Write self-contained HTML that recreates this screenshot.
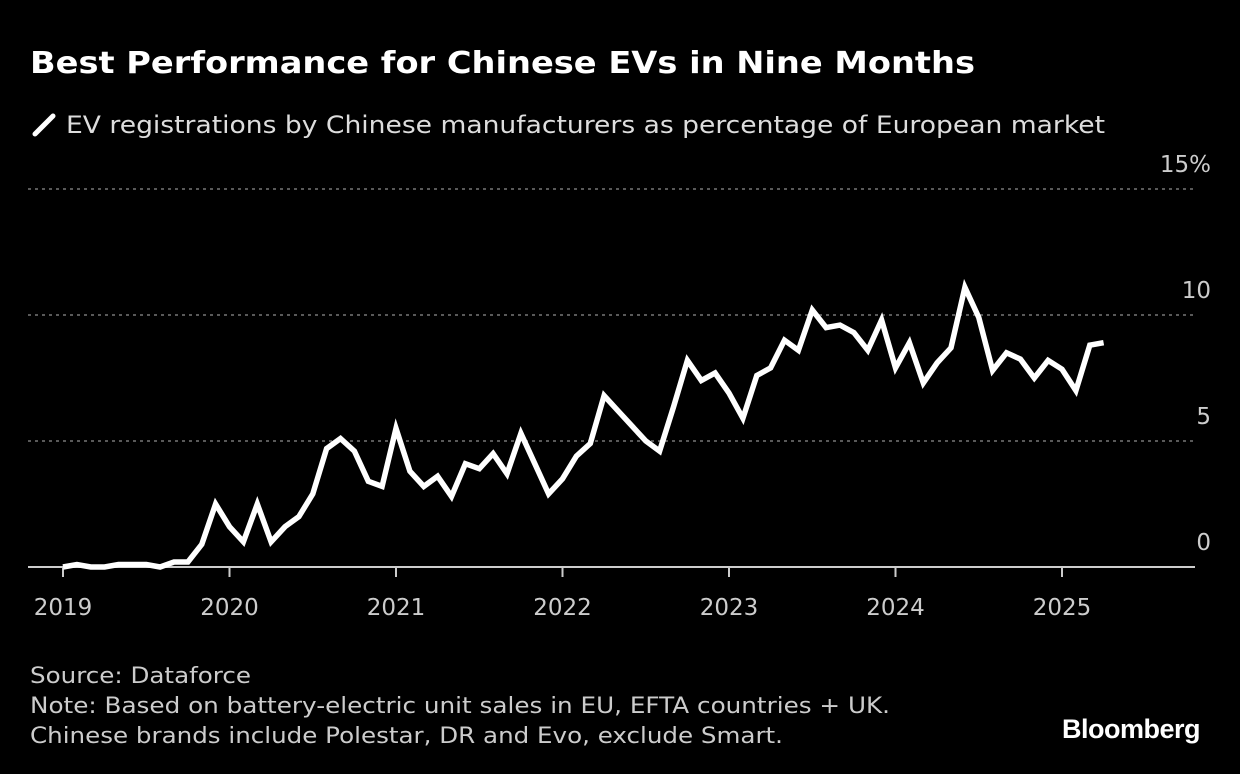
<!DOCTYPE html>
<html><head><meta charset="utf-8"><style>
body{margin:0;background:#000;width:1240px;height:774px;overflow:hidden;font-family:"DejaVu Sans","Liberation Sans",sans-serif;color:#fff}
svg{position:absolute;left:0;top:0}
</style></head><body>
<svg width="1240" height="774">
<text x="30" y="73" font-size="30" font-weight="bold" fill="#fff" textLength="945" lengthAdjust="spacingAndGlyphs">Best Performance for Chinese EVs in Nine Months</text>
<g>
<line x1="35" y1="134" x2="53" y2="116" stroke="#fff" stroke-width="5" stroke-linecap="round"/>
<text x="66" y="133" font-size="24" fill="#ddd" textLength="1039" lengthAdjust="spacingAndGlyphs">EV registrations by Chinese manufacturers as percentage of European market</text>
</g>
<g id="grid"></g><g id="xaxis"></g>
<path id="line" fill="none" stroke="#fff" stroke-width="5.5" stroke-linejoin="miter"/>
<text x="30" y="683" font-size="22" fill="#ccc" textLength="221" lengthAdjust="spacingAndGlyphs">Source: Dataforce</text>
<text x="30" y="713" font-size="22" fill="#ccc" textLength="860" lengthAdjust="spacingAndGlyphs">Note: Based on battery-electric unit sales in EU, EFTA countries + UK.</text>
<text x="30" y="743" font-size="22" fill="#ccc" textLength="753" lengthAdjust="spacingAndGlyphs">Chinese brands include Polestar, DR and Evo, exclude Smart.</text>
<text x="1200" y="738" font-family="Liberation Sans" font-size="27" font-weight="bold" fill="#fff" text-anchor="end" letter-spacing="-0.5">Bloomberg</text>
</svg>
<script>
const values=[0,0.1,0,0,0.1,0.1,0.1,0,0.2,0.2,0.9,2.5,1.6,1.0,2.5,1.0,1.6,2.0,2.9,4.7,5.1,4.6,3.4,3.2,5.5,3.8,3.2,3.6,2.8,4.1,3.9,4.5,3.7,5.3,4.1,2.9,3.5,4.4,4.9,6.8,6.2,5.6,5.0,4.6,6.35,8.2,7.4,7.7,6.9,5.9,7.6,7.9,9.0,8.6,10.2,9.5,9.6,9.3,8.6,9.8,7.9,8.9,7.3,8.1,8.7,11.1,9.9,7.8,8.5,8.25,7.5,8.2,7.85,7.0,8.8,8.9];
const yTicks=[0,5,10,15];
const yTickLabels=["0","5","10","15%"];
const years=["2019","2020","2021","2022","2023","2024","2025"];
const NS="http://www.w3.org/2000/svg";
const X0=63,MONTH=13.875,Y0=567,YPX=25.2;
const x=i=>X0+i*MONTH;
const y=v=>Y0-v*YPX;
const grid=document.getElementById('grid');
yTicks.forEach((t,k)=>{
  if(t!==0){const l=document.createElementNS(NS,'line');
  l.setAttribute('x1',28);l.setAttribute('x2',1195);l.setAttribute('y1',y(t));l.setAttribute('y2',y(t));
  l.setAttribute('stroke','#777');l.setAttribute('stroke-width','1.5');l.setAttribute('stroke-dasharray','3 4');
  
  
  grid.appendChild(l);}
  const tx=document.createElementNS(NS,'text');
  tx.setAttribute('x',1211);tx.setAttribute('y',y(t)-17);tx.setAttribute('text-anchor','end');
  tx.setAttribute('font-size','23');tx.setAttribute('fill','#ccc');tx.textContent=yTickLabels[k];
  
  
  grid.appendChild(tx);
});
const xa=document.getElementById('xaxis');
const base=document.createElementNS(NS,'line');
base.setAttribute('x1',28);base.setAttribute('x2',1195);base.setAttribute('y1',Y0);base.setAttribute('y2',Y0);
base.setAttribute('stroke','#ccc');base.setAttribute('stroke-width','2');


xa.appendChild(base);
years.forEach((yr,k)=>{
  const px=x(k*12);
  const t=document.createElementNS(NS,'line');
  t.setAttribute('x1',px);t.setAttribute('x2',px);t.setAttribute('y1',Y0);t.setAttribute('y2',Y0+10);
  t.setAttribute('stroke','#ccc');t.setAttribute('stroke-width','2');
  
  
  xa.appendChild(t);
  const tx=document.createElementNS(NS,'text');
  tx.setAttribute('x',px);tx.setAttribute('y',615);tx.setAttribute('text-anchor','middle');
  tx.setAttribute('font-size','23');tx.setAttribute('fill','#ccc');tx.textContent=yr;
  
  
  xa.appendChild(tx);
});
document.getElementById('line').setAttribute('d',values.map((v,i)=>(i?'L':'M')+x(i).toFixed(1)+' '+y(v).toFixed(1)).join(' '));
</script>
</body></html>
